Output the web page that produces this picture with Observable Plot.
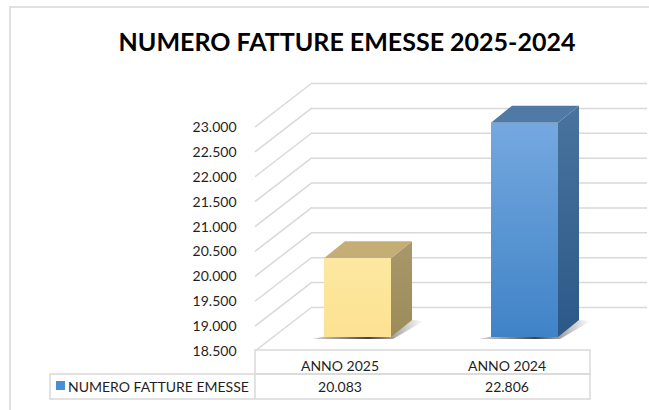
<!DOCTYPE html>
<html><head><meta charset="utf-8">
<script src="https://cdn.jsdelivr.net/npm/d3@7"></script>
<script src="https://cdn.jsdelivr.net/npm/@observablehq/plot@0.6"></script>
<style>
body{margin:0;background:#fff;}
#wrap{position:relative;width:649px;height:410px;overflow:hidden;font-family:Lato,sans-serif;background:#fff;}
#frame{position:absolute;left:9px;top:6px;width:700px;height:500px;border:2px solid #e0e0e0;box-sizing:border-box;}
#chart{position:absolute;left:0;top:0;}
</style></head>
<body><div id="wrap"><div id="frame"></div><div id="chart"></div></div>
<script>
// ---- data ----
const title = "NUMERO FATTURE EMESSE 2025-2024";
const seriesName = "NUMERO FATTURE EMESSE";
const categories = ["ANNO 2025", "ANNO 2024"];
const values = [20083, 22806];
const yTicks = [18500, 19000, 19500, 20000, 20500, 21000, 21500, 22000, 22500, 23000];

// ---- styles ----
const palette = {
  "ANNO 2025": {front: ["#fde8a0", "#fce292"], side: ["#a8986a", "#9c8c5a"], top: "#c4ae75"},
  "ANNO 2024": {front: ["#75a8df", "#3f83c7"], side: ["#4a739f", "#2b5987"], top: "#5079a6"}
};
const grid = "#d9d9d9";
const textColor = "#1f1f1f";
const wallDX = 57, wallDY = 44;     // depth of the 3D walls (px)
const barOffX = 18, barOffY = 14;   // bar front plane offset
const barDX = 21, barDY = 17;       // bar depth
const fmt = d3.formatLocale({decimal: ",", thousands: ".", grouping: [3], currency: ["€", ""]}).format(",");

const data = categories.map((c, i) => ({cat: c, value: values[i]}));
const yMin = yTicks[0];

const bandwidthOf = (s) => typeof s.x.bandwidth === "function" ? s.x.bandwidth() : s.scales.x.bandwidth;

const plot = Plot.plot({
  width: 649, height: 410,
  marginLeft: 255, marginRight: 59, marginTop: 127, marginBottom: 59,
  x: {domain: categories, paddingInner: 0.6, paddingOuter: 0.3, axis: null},
  y: {domain: [yMin, yTicks[yTicks.length - 1]], axis: null},
  style: {fontFamily: "Lato, sans-serif", fontSize: "14px", color: textColor, background: "transparent", overflow: "visible"},
  marks: [
    // back wall gridlines
    Plot.ruleY(yTicks, {dx: wallDX, dy: -wallDY, stroke: grid, strokeWidth: 1.5}),
    // side wall diagonals
    Plot.ruleY(yTicks, {render(index, scales, vals, dims) {
      const g = d3.create("svg:g").attr("stroke", grid).attr("stroke-width", 1.5);
      for (const i of index) {
        const y = scales.y(yTicks[i]);
        g.append("line").attr("x1", dims.marginLeft).attr("y1", y)
          .attr("x2", dims.marginLeft + wallDX).attr("y2", y - wallDY);
      }
      return g.node();
    }}),
    // y axis labels
    Plot.axisY(yTicks, {tickSize: 0, tickPadding: 19, tickFormat: fmt, fontSize: 14, fill: textColor, label: null}),
    // 3D bars
    Plot.barY(data, {x: "cat", y1: () => yMin, y2: "value", render(index, scales, vals, dims) {
      const g = d3.create("svg:g");
      const defs = g.append("defs");
      const bw = bandwidthOf(scales);
      for (const i of index) {
        const d = data[i];
        const p = palette[d.cat];
        const gid = "g" + i;
        const lf = defs.append("linearGradient").attr("id", gid + "f").attr("x1", 0).attr("y1", 0).attr("x2", 0).attr("y2", 1);
        lf.append("stop").attr("offset", "0").attr("stop-color", p.front[0]);
        lf.append("stop").attr("offset", "1").attr("stop-color", p.front[1]);
        const ls = defs.append("linearGradient").attr("id", gid + "s").attr("x1", 0).attr("y1", 0).attr("x2", 0).attr("y2", 1);
        ls.append("stop").attr("offset", "0").attr("stop-color", p.side[0]);
        ls.append("stop").attr("offset", "1").attr("stop-color", p.side[1]);
        const sh = defs.append("linearGradient").attr("id", gid + "h").attr("x1", 0).attr("y1", 0).attr("x2", 1).attr("y2", 0);
        sh.append("stop").attr("offset", "0").attr("stop-color", "#333").attr("stop-opacity", 0.2);
        sh.append("stop").attr("offset", "0.5").attr("stop-color", "#222").attr("stop-opacity", 0.85);
        sh.append("stop").attr("offset", "1").attr("stop-color", "#555").attr("stop-opacity", 0.0);

        const x0 = scales.x(d.cat) + barOffX, x1 = x0 + bw;
        const yt = scales.y(d.value) - barOffY, yb = scales.y(yMin) - barOffY;
        // shadow
        g.append("polygon").attr("fill", `url(#${gid}h)`)
          .attr("points", [[x0 - 12, yb + 2], [x1 + 2, yb + 2], [x1 + barDX + 12, yb - barDY + 1], [x1 + barDX, yb - barDY]].join(" "));
        // side
        g.append("polygon").attr("fill", `url(#${gid}s)`)
          .attr("points", [[x1, yt], [x1 + barDX, yt - barDY], [x1 + barDX, yb - barDY], [x1, yb]].join(" "));
        // top
        g.append("polygon").attr("fill", p.top)
          .attr("points", [[x0, yt], [x0 + barDX, yt - barDY], [x1 + barDX, yt - barDY], [x1, yt]].join(" "));
        // front
        g.append("rect").attr("x", x0).attr("y", yt).attr("width", bw).attr("height", yb - yt).attr("fill", `url(#${gid}f)`);
      }
      return g.node();
    }}),
    // data table: category headers and values
    Plot.text(categories, {x: (d) => d, frameAnchor: "bottom", lineAnchor: "middle", dy: 15, fontSize: 14, fill: textColor}),
    Plot.text(data, {x: "cat", text: (d) => fmt(d.value), frameAnchor: "bottom", lineAnchor: "middle", dy: 36, fontSize: 14, fill: textColor})
  ]
});
document.getElementById("chart").appendChild(plot);

// title, table borders and legend
const svg = d3.select(plot);
svg.append("text").attr("x", 347).attr("y", 51).attr("text-anchor", "middle")
  .attr("font-family", "Lato, sans-serif").attr("font-weight", 700).attr("font-size", 25).attr("fill", "#000")
  .text(title);
const tb = svg.append("g").attr("fill", "none").attr("stroke", grid).attr("stroke-width", 1.5);
tb.append("rect").attr("x", 255).attr("y", 350).attr("width", 335).attr("height", 24);
tb.append("rect").attr("x", 50).attr("y", 374).attr("width", 540).attr("height", 25);
tb.append("line").attr("x1", 255).attr("y1", 374).attr("x2", 255).attr("y2", 399);
svg.append("rect").attr("x", 56).attr("y", 381).attr("width", 9).attr("height", 9).attr("fill", "#4a8fd6");
svg.append("text").attr("x", 68).attr("y", 391.5).attr("text-anchor", "start").attr("font-family", "Lato, sans-serif").attr("font-size", 14)
  .attr("fill", textColor).text(seriesName);
</script>
</body></html>
